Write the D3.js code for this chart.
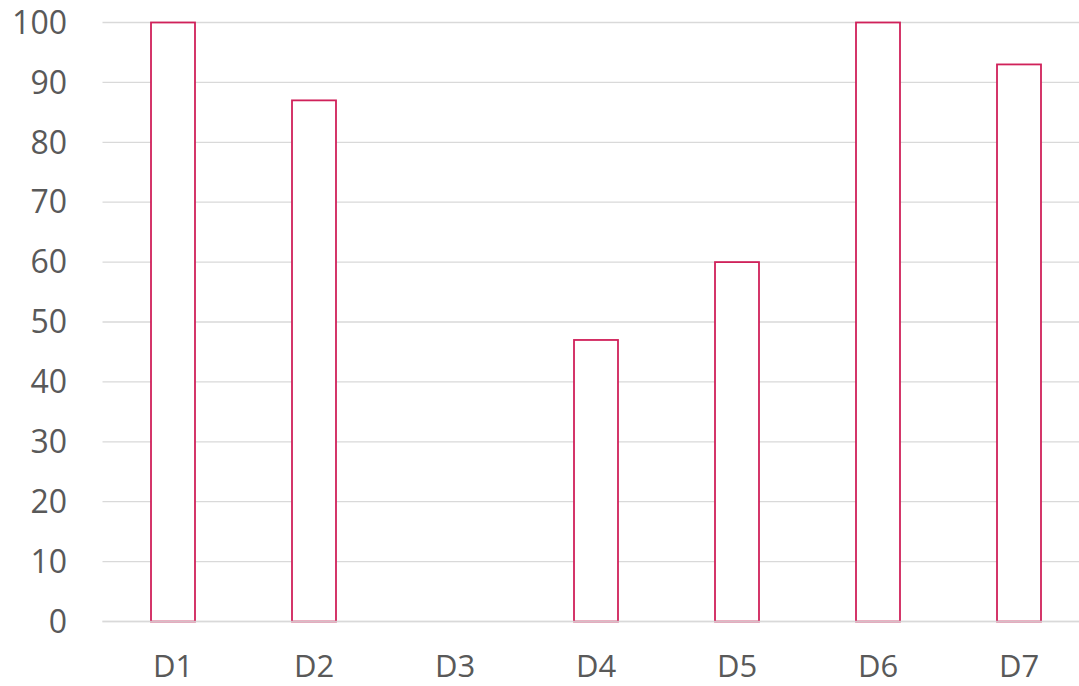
<!DOCTYPE html>
<html><head><meta charset="utf-8">
<script src="https://cdn.jsdelivr.net/npm/d3@7"></script>
<style>html,body{margin:0;padding:0;background:#fff;overflow:hidden}</style>
</head><body>
<svg id="c" width="1079" height="686"></svg>
<script>
const categories = ["D1","D2","D3","D4","D5","D6","D7"];
const values = [100, 87, 0, 47, 60, 100, 93];
const yTicks = [0,10,20,30,40,50,60,70,80,90,100];

const svg = d3.select("#c");
const x = d3.scaleBand().domain(categories).range([102.5, 1089.5]).paddingInner(0.688).paddingOuter(0.344);
const y = d3.scaleLinear().domain([0,100]).range([621.5, 22.5]);
const font = "'Open Sans', sans-serif";

// gridlines
svg.append("g").selectAll("line").data(yTicks).join("line")
  .attr("x1", 102.5).attr("x2", 1089.5)
  .attr("y1", d => y(d)).attr("y2", d => y(d))
  .attr("stroke", "#d9d9d9").attr("stroke-width", 1.3);

// y labels
svg.append("g").selectAll("text").data(yTicks).join("text")
  .attr("x", 67).attr("y", d => y(d)).attr("dy", "0.35em")
  .attr("text-anchor", "end").attr("font-family", font).attr("font-size", 32)
  .attr("fill", "#595959").text(d => d);

// bars
svg.append("g").selectAll("rect").data(values).join("rect")
  .attr("x", (d,i) => x(categories[i]))
  .attr("y", d => y(d))
  .attr("width", x.bandwidth())
  .attr("height", d => y(0) - y(d))
  .attr("fill", "#ffffff").attr("stroke", "#d0215a").attr("stroke-width", 1.8);

// baseline over bars
svg.append("line").attr("x1", 102.5).attr("x2", 1089.5)
  .attr("y1", y(0)).attr("y2", y(0))
  .attr("stroke", "#d9d9d9").attr("stroke-width", 1.5).attr("opacity", 0.85);

// x labels
svg.append("g").selectAll("text").data(categories).join("text")
  .attr("x", d => x(d) + x.bandwidth()/2).attr("y", 677)
  .attr("text-anchor", "middle").attr("font-family", font).attr("font-size", 31)
  .attr("fill", "#595959").text(d => d);
</script>
</body></html>
